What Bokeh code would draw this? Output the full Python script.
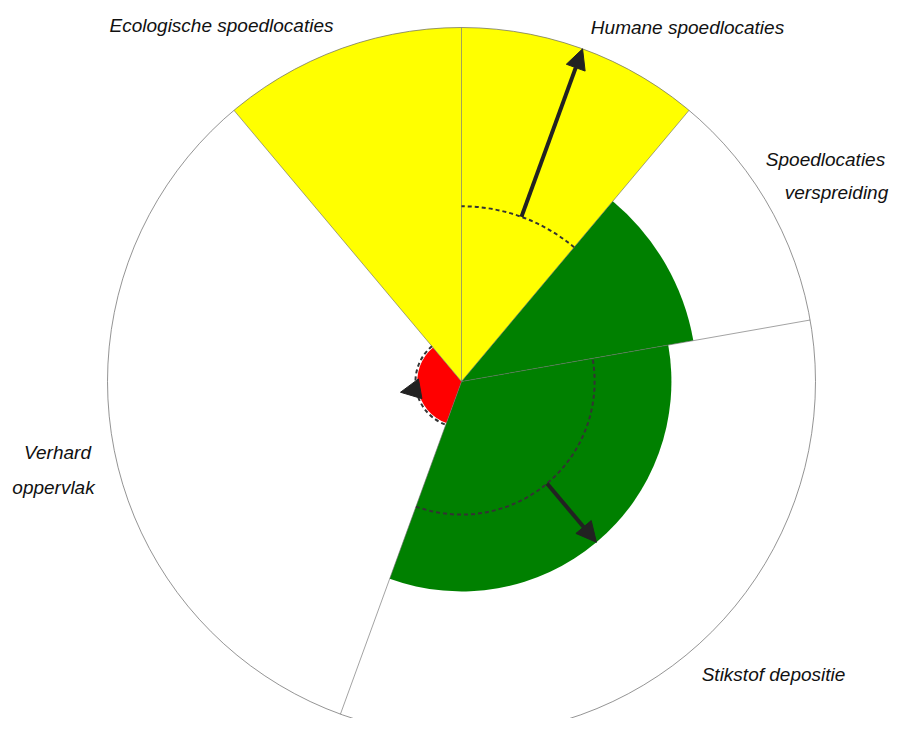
import numpy as np
from bokeh.plotting import figure
from bokeh.models import Range1d, ColumnDataSource, Arrow, NormalHead
from bokeh.embed import file_html
from bokeh.resources import INLINE
from bokeh.core.properties import value

# ---------------- data ----------------
categories = ["Humane spoedlocaties", "Spoedlocaties verspreiding", "Stikstof depositie",
              "Verhard oppervlak", "Ecologische spoedlocaties"]
sector_weights = [1, 1, 3, 3, 1]                 # relative sector widths (clockwise from north)
scores = [1.0, 0.665, 0.593, 0.125, 1.0]          # filled radius as fraction of full scale
norms = [0.495, None, 0.376, 0.13, None]          # dashed reference level
trend_end = [1.0, None, 0.593, 0.175, None]       # arrow end level
label_lines = [["Humane spoedlocaties"], ["Spoedlocaties", "verspreiding"], ["Stikstof depositie"],
               ["Verhard", "oppervlak"], ["Ecologische spoedlocaties"]]

# ---------------- style / layout ----------------
colors = ["#FFFF00", "#008000", "#008000", "#FF0000", "#FFFF00"]
R = 354.0
W, H = 889, 718
CX, CY = 461, 381   # centre of the rose in canvas pixels
label_pos = [[(226, 354)], [(364, 222.5), (375, 189)], [(312, -293)],
             [(-404, -70.5), (-408, -105.5)], [(-240, 356)]]

p = figure(width=W, height=H, output_backend="svg", toolbar_location=None,
           x_range=Range1d(-CX, W - CX), y_range=Range1d(CY - H, CY),
           min_border=0, tools="")
p.axis.visible = False
p.grid.visible = False
p.outline_line_color = None
p.background_fill_color = "white"
p.border_fill_color = "white"

total = float(sum(sector_weights))
edges = np.concatenate([[0.0], np.cumsum(sector_weights) / total * 360.0])


def math_ang(compass_deg):
    return np.deg2rad(90.0 - compass_deg)


# wedges
for i, cat in enumerate(categories):
    a, b = edges[i], edges[i + 1]
    p.wedge(x=0, y=0, radius=scores[i] * R, start_angle=math_ang(b), end_angle=math_ang(a),
            direction="anticlock", fill_color=colors[i], line_color=None)

# outer circle
p.arc(x=0, y=0, radius=R, start_angle=0, end_angle=2 * np.pi,
      line_color="#666666", line_alpha=0.7, line_width=1)

# sector boundary lines
th = np.deg2rad(edges[:-1])
p.segment(x0=np.zeros(len(th)), y0=np.zeros(len(th)), x1=R * np.sin(th), y1=R * np.cos(th),
          line_color="#666666", line_alpha=0.6, line_width=1)

# dashed norm arcs
for i in range(len(categories)):
    if norms[i] is None:
        continue
    a, b = edges[i], edges[i + 1]
    p.arc(x=0, y=0, radius=norms[i] * R, start_angle=math_ang(b), end_angle=math_ang(a),
          direction="anticlock", line_color="#333333", line_width=2, line_dash="4 3")

# arrows
xs0, ys0, xs1, ys1 = [], [], [], []
for i in range(len(categories)):
    if norms[i] is None or trend_end[i] is None:
        continue
    mid = np.deg2rad((edges[i] + edges[i + 1]) / 2)
    xs0.append(norms[i] * R * np.sin(mid)); ys0.append(norms[i] * R * np.cos(mid))
    xs1.append(trend_end[i] * R * np.sin(mid)); ys1.append(trend_end[i] * R * np.cos(mid))
asrc = ColumnDataSource(dict(x0=xs0, y0=ys0, x1=xs1, y1=ys1))
p.add_layout(Arrow(end=NormalHead(size=20, fill_color="#222222", line_color="#222222"),
                   x_start="x0", y_start="y0", x_end="x1", y_end="y1", source=asrc,
                   line_color="#222222", line_width=4))

# labels
tx, ty, tt = [], [], []
for lines, poss in zip(label_lines, label_pos):
    for t, (x, y) in zip(lines, poss):
        tx.append(x); ty.append(y); tt.append(t)
p.text(x=tx, y=ty, text=tt, text_align="center", text_baseline="middle",
       text_font=value("Liberation Sans"), text_font_size="19px",
       text_font_style="italic", text_color="#111111")

open("out.html", "w").write(file_html(p, INLINE))
